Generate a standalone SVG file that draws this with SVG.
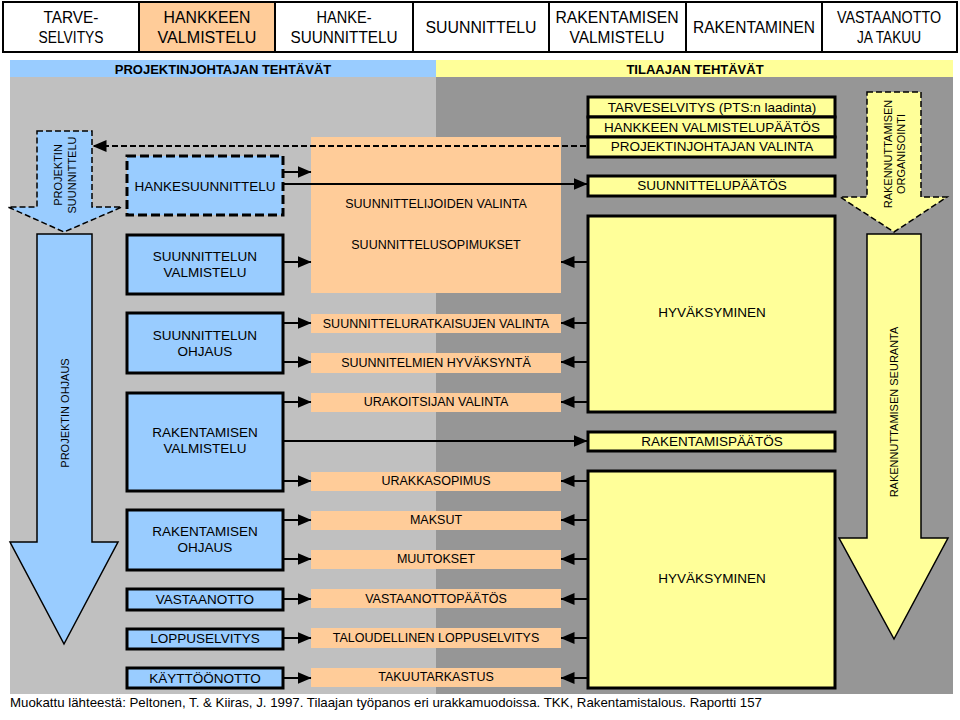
<svg xmlns="http://www.w3.org/2000/svg" width="960" height="720" viewBox="0 0 960 720">
<defs>
<style>
text{font-family:"Liberation Sans",Arial,sans-serif;fill:#000}
.hb{fill:#fff;stroke:#000;stroke-width:2}
.ht{font-size:16px;text-anchor:middle}
.bl{fill:#99CCFF;stroke:#000;stroke-width:3}
.bt{font-size:13.5px;text-anchor:middle}
.or{fill:#FFCC99}
.ot{font-size:12.5px;text-anchor:middle}
.ye{fill:#FFFF99;stroke:#000;stroke-width:3}
.yt{font-size:13.5px;text-anchor:middle}
.vt{font-size:11px;text-anchor:middle}
.conn line{stroke:#000;stroke-width:2;marker-end:url(#ah)}
.dash{stroke-dasharray:6 3}
</style>
<marker id="ah" viewBox="0 0 14 12" markerWidth="14" markerHeight="12" refX="13.5" refY="6" orient="auto" markerUnits="userSpaceOnUse">
<path d="M0,0 L14,6 L0,12 z" fill="#000"/>
</marker>
</defs>
<rect width="960" height="720" fill="#fff"/>

<g id="phases">
<rect class="hb" x="3" y="2" width="136" height="50"/>
<rect class="hb" x="139" y="2" width="136" height="50" style="fill:#FFCC99"/>
<rect class="hb" x="275" y="2" width="138" height="50"/>
<rect class="hb" x="413" y="2" width="136" height="50"/>
<rect class="hb" x="549" y="2" width="137" height="50"/>
<rect class="hb" x="686" y="2" width="136" height="50"/>
<rect class="hb" x="822" y="2" width="135" height="50"/>
<text class="ht" x="71" y="23" textLength="55" lengthAdjust="spacingAndGlyphs">TARVE-</text>
<text class="ht" x="71" y="43" textLength="65" lengthAdjust="spacingAndGlyphs">SELVITYS</text>
<text class="ht" x="207" y="23" textLength="87" lengthAdjust="spacingAndGlyphs">HANKKEEN</text>
<text class="ht" x="207" y="43" textLength="99" lengthAdjust="spacingAndGlyphs">VALMISTELU</text>
<text class="ht" x="344" y="23" textLength="55" lengthAdjust="spacingAndGlyphs">HANKE-</text>
<text class="ht" x="344" y="43" textLength="107" lengthAdjust="spacingAndGlyphs">SUUNNITTELU</text>
<text class="ht" x="481" y="33" textLength="111" lengthAdjust="spacingAndGlyphs">SUUNNITTELU</text>
<text class="ht" x="617" y="23" textLength="123" lengthAdjust="spacingAndGlyphs">RAKENTAMISEN</text>
<text class="ht" x="617" y="43" textLength="95" lengthAdjust="spacingAndGlyphs">VALMISTELU</text>
<text class="ht" x="754" y="33" textLength="122" lengthAdjust="spacingAndGlyphs">RAKENTAMINEN</text>
<text class="ht" x="889" y="23" textLength="104" lengthAdjust="spacingAndGlyphs">VASTAANOTTO</text>
<text class="ht" x="889" y="43" textLength="64" lengthAdjust="spacingAndGlyphs">JA TAKUU</text>
</g>

<g id="bands">
<rect x="10" y="60" width="426" height="17" fill="#99CCFF"/>
<rect x="436" y="60" width="517" height="17" fill="#FFFF99"/>
<text x="223" y="74" font-size="13" font-weight="bold" text-anchor="middle">PROJEKTINJOHTAJAN TEHTÄVÄT</text>
<text x="695" y="74" font-size="13" font-weight="bold" text-anchor="middle">TILAAJAN TEHTÄVÄT</text>
<rect x="10" y="77" width="426" height="617" fill="#C0C0C0"/>
<rect x="436" y="77" width="517" height="617" fill="#969696"/>
</g>

<g id="arrow-projektin-suunnittelu">
<polygon class="dash" points="37,131 92,131 92,207 122,207 64,232 8,207 37,207" fill="#99CCFF" stroke="#000" stroke-width="1.5"/>
<text class="vt" transform="translate(62,175) rotate(-90)">PROJEKTIN</text>
<text class="vt" transform="translate(76,175) rotate(-90)">SUUNNITTELU</text>
</g>
<g id="arrow-projektin-ohjaus">
<polygon points="37,234 92,234 92,542 118,542 64,644 10,542 37,542" fill="#99CCFF" stroke="#000" stroke-width="1.5"/>
<text class="vt" transform="translate(69,413) rotate(-90)">PROJEKTIN OHJAUS</text>
</g>
<g id="arrow-rakennuttamisen-organisointi">
<polygon class="dash" points="867,92 921,92 921,197 947,197 894,232 840,197 867,197" fill="#FFFF99" stroke="#000" stroke-width="1.5"/>
<text class="vt" transform="translate(892,154) rotate(-90)">RAKENNUTTAMISEN</text>
<text class="vt" transform="translate(905,154) rotate(-90)">ORGANISOINTI</text>
</g>
<g id="arrow-rakennuttamisen-seuranta">
<polygon points="867,234 921,234 921,538 948,538 894,639 839,538 867,538" fill="#FFFF99" stroke="#000" stroke-width="1.5"/>
<text class="vt" transform="translate(898,412) rotate(-90)">RAKENNUTTAMISEN SEURANTA</text>
</g>

<g id="pj-hankesuunnittelu"><rect class="bl dash" x="127" y="156" width="156" height="59" style="stroke-dasharray:9 4"/><text class="bt" x="205" y="191">HANKESUUNNITTELU</text></g>
<g id="pj-suunnittelun-valmistelu"><rect class="bl" x="127" y="235" width="156" height="59"/><text class="bt" x="205" y="261">SUUNNITTELUN</text><text class="bt" x="205" y="277">VALMISTELU</text></g>
<g id="pj-suunnittelun-ohjaus"><rect class="bl" x="127" y="313" width="156" height="60"/><text class="bt" x="205" y="340">SUUNNITTELUN</text><text class="bt" x="205" y="356">OHJAUS</text></g>
<g id="pj-rakentamisen-valmistelu"><rect class="bl" x="127" y="393" width="156" height="98"/><text class="bt" x="205" y="437">RAKENTAMISEN</text><text class="bt" x="205" y="453">VALMISTELU</text></g>
<g id="pj-rakentamisen-ohjaus"><rect class="bl" x="127" y="510" width="156" height="60"/><text class="bt" x="205" y="536">RAKENTAMISEN</text><text class="bt" x="205" y="552">OHJAUS</text></g>
<g id="pj-vastaanotto"><rect class="bl" x="127" y="589" width="156" height="21"/><text class="bt" x="205" y="604">VASTAANOTTO</text></g>
<g id="pj-loppuselvitys"><rect class="bl" x="127" y="629" width="156" height="20"/><text class="bt" x="205" y="643">LOPPUSELVITYS</text></g>
<g id="pj-kayttoonotto"><rect class="bl" x="127" y="668" width="156" height="20"/><text class="bt" x="205" y="683">KÄYTTÖÖNOTTO</text></g>

<g id="o-suunnittelijat"><rect class="or" x="311" y="137" width="250" height="156"/><text class="ot" x="436" y="208">SUUNNITTELIJOIDEN VALINTA</text><text class="ot" x="436" y="249">SUUNNITTELUSOPIMUKSET</text></g>
<g id="o-ratkaisut"><rect class="or" x="311" y="314" width="250" height="19"/><text class="ot" x="436" y="328">SUUNNITTELURATKAISUJEN VALINTA</text></g>
<g id="o-hyvaksynta"><rect class="or" x="311" y="353" width="250" height="20"/><text class="ot" x="436" y="367">SUUNNITELMIEN HYVÄKSYNTÄ</text></g>
<g id="o-urakoitsija"><rect class="or" x="311" y="393" width="250" height="19"/><text class="ot" x="436" y="406">URAKOITSIJAN VALINTA</text></g>
<g id="o-urakkasopimus"><rect class="or" x="311" y="472" width="250" height="19"/><text class="ot" x="436" y="485">URAKKASOPIMUS</text></g>
<g id="o-maksut"><rect class="or" x="311" y="511" width="250" height="19"/><text class="ot" x="436" y="524">MAKSUT</text></g>
<g id="o-muutokset"><rect class="or" x="311" y="550" width="250" height="19"/><text class="ot" x="436" y="563">MUUTOKSET</text></g>
<g id="o-vastaanottopaatos"><rect class="or" x="311" y="589" width="250" height="19"/><text class="ot" x="436" y="603">VASTAANOTTOPÄÄTÖS</text></g>
<g id="o-loppuselvitys"><rect class="or" x="311" y="628" width="250" height="20"/><text class="ot" x="436" y="642">TALOUDELLINEN LOPPUSELVITYS</text></g>
<g id="o-takuutarkastus"><rect class="or" x="311" y="668" width="250" height="19"/><text class="ot" x="436" y="681">TAKUUTARKASTUS</text></g>

<g id="t-tarveselvitys"><rect class="ye" x="588" y="97" width="247" height="20"/><text class="yt" x="712" y="112">TARVESELVITYS (PTS:n laadinta)</text></g>
<g id="t-valmistelupaatos"><rect class="ye" x="588" y="117" width="247" height="20"/><text class="yt" x="712" y="132">HANKKEEN VALMISTELUPÄÄTÖS</text></g>
<g id="t-pj-valinta"><rect class="ye" x="588" y="137" width="247" height="20"/><text class="yt" x="712" y="151">PROJEKTINJOHTAJAN VALINTA</text></g>
<g id="t-suunnittelupaatos"><rect class="ye" x="588" y="176" width="247" height="20"/><text class="yt" x="712" y="190">SUUNNITTELUPÄÄTÖS</text></g>
<g id="t-hyvaksyminen1"><rect class="ye" x="588" y="216" width="247" height="196"/><text class="yt" x="712" y="317">HYVÄKSYMINEN</text></g>
<g id="t-rakentamispaatos"><rect class="ye" x="588" y="432" width="247" height="19"/><text class="yt" x="712" y="446">RAKENTAMISPÄÄTÖS</text></g>
<g id="t-hyvaksyminen2"><rect class="ye" x="588" y="471" width="247" height="217"/><text class="yt" x="712" y="583">HYVÄKSYMINEN</text></g>

<g id="connectors" class="conn">
<line class="dash" x1="586" y1="146" x2="93" y2="146"/>
<line x1="284" y1="172" x2="311" y2="172"/>
<line x1="284" y1="184" x2="587" y2="184"/>
<line x1="284" y1="262" x2="311" y2="262"/>
<line x1="284" y1="323" x2="311" y2="323"/>
<line x1="284" y1="362" x2="311" y2="362"/>
<line x1="284" y1="402" x2="311" y2="402"/>
<line x1="284" y1="441" x2="587" y2="441"/>
<line x1="284" y1="481" x2="311" y2="481"/>
<line x1="284" y1="520" x2="311" y2="520"/>
<line x1="284" y1="559" x2="311" y2="559"/>
<line x1="284" y1="599" x2="311" y2="599"/>
<line x1="284" y1="638" x2="311" y2="638"/>
<line x1="284" y1="678" x2="311" y2="678"/>
<line x1="587" y1="262" x2="561" y2="262"/>
<line x1="587" y1="323" x2="561" y2="323"/>
<line x1="587" y1="362" x2="561" y2="362"/>
<line x1="587" y1="402" x2="561" y2="402"/>
<line x1="587" y1="481" x2="561" y2="481"/>
<line x1="587" y1="520" x2="561" y2="520"/>
<line x1="587" y1="559" x2="561" y2="559"/>
<line x1="587" y1="599" x2="561" y2="599"/>
<line x1="587" y1="638" x2="561" y2="638"/>
<line x1="587" y1="678" x2="561" y2="678"/>
</g>

<text x="10" y="707" font-size="13.5" textLength="752" lengthAdjust="spacingAndGlyphs">Muokattu lähteestä: Peltonen, T. &amp; Kiiras, J. 1997. Tilaajan työpanos eri urakkamuodoissa. TKK, Rakentamistalous. Raportti 157</text>
</svg>
